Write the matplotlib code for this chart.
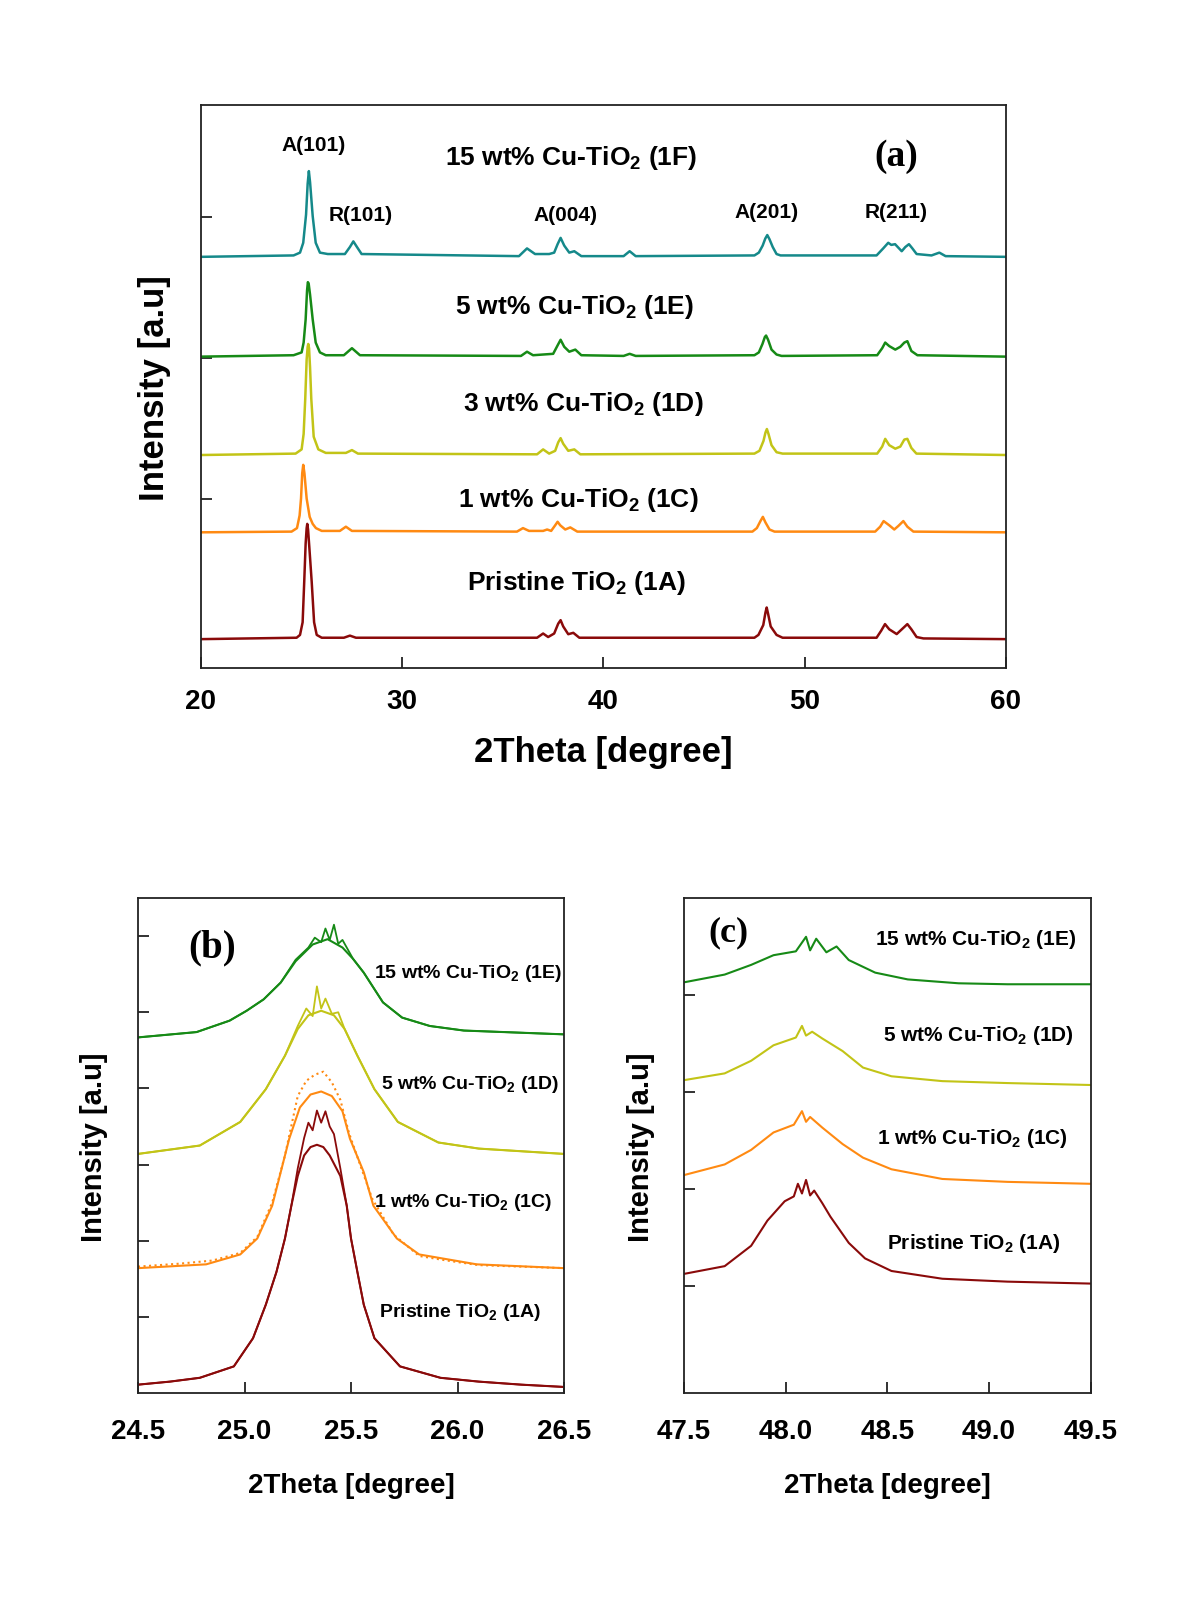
import numpy as np
import matplotlib
matplotlib.use("Agg")
import matplotlib.pyplot as plt

plt.rcParams['font.family'] = ['Liberation Sans', 'DejaVu Sans']
plt.rcParams['font.weight'] = 'bold'
plt.rcParams['mathtext.fontset'] = 'custom'
plt.rcParams['mathtext.rm'] = 'Liberation Sans:bold'
plt.rcParams['mathtext.default'] = 'rm'

# colours of the samples
c_1A = '#8a0a0a'
c_1C = '#ff8a12'
c_1D = '#c2c417'
c_1E = '#168a16'
c_1F = '#15898a'

# ---- panel (a): full patterns, intensity above own baseline ----
a_x_1A = [20, 24.75, 24.92, 25.05, 25.13, 25.2, 25.25, 25.28, 25.32, 25.38, 25.5, 25.62, 25.75, 26.0, 27.1, 27.4, 27.7,
          36.7, 37.0, 37.25, 37.55, 37.75, 37.87, 38.0, 38.25, 38.5, 38.8,
          47.5, 47.7, 47.94, 48.05, 48.11, 48.18, 48.31, 48.6, 48.9,
          53.57, 53.8, 53.99, 54.2, 54.57, 54.9, 55.1, 55.3, 55.56, 55.9, 60]
a_y_1A = [0, .01, .03, .12, .41, .68, .79, .82, .78, .66, .41, .12, .03, .01, .01, .025, .01,
          .01, .04, .015, .04, .11, .135, .09, .035, .045, .01,
          .01, .03, .10, .19, .225, .18, .09, .03, .01,
          .01, .06, .107, .07, .036, .08, .107, .07, .015, .005, 0]
a_x_1C = [20, 24.5, 24.77, 24.9, 24.97, 25.03, 25.08, 25.14, 25.25, 25.4, 25.55, 25.71, 26.0, 26.9, 27.2, 27.5,
          35.7, 36.0, 36.3, 37.0, 37.2, 37.4, 37.6, 37.72, 37.85, 38.1, 38.35, 38.7,
          47.4, 47.62, 47.8, 47.92, 48.05, 48.25, 48.5,
          53.5, 53.75, 53.92, 54.2, 54.45, 54.65, 54.9, 55.1, 55.4, 60]
a_y_1C = [0, .005, .03, .12, .24, .42, .48, .42, .24, .11, .06, .03, .01, .01, .04, .01,
          .005, .03, .01, .01, .02, .01, .05, .075, .05, .02, .035, .005,
          .005, .03, .08, .11, .07, .02, .005,
          .005, .04, .08, .05, .02, .045, .08, .04, .005, 0]
a_x_1D = [20, 24.7, 25.0, 25.1, 25.18, 25.25, 25.3, 25.33, 25.37, 25.42, 25.48, 25.6, 25.83, 26.2, 27.2, 27.5, 27.8,
          36.7, 37.0, 37.3, 37.6, 37.75, 37.87, 38.0, 38.25, 38.55, 38.85,
          47.5, 47.75, 47.95, 48.05, 48.12, 48.2, 48.35, 48.6, 48.9,
          53.6, 53.85, 54.0, 54.2, 54.5, 54.75, 54.95, 55.1, 55.3, 55.55, 60]
a_y_1D = [0, .01, .04, .15, .40, .68, .77, .79, .76, .62, .40, .13, .04, .015, .015, .035, .01,
          .005, .04, .01, .03, .09, .12, .08, .03, .04, .005,
          .01, .03, .10, .16, .185, .15, .07, .02, .01,
          .01, .06, .115, .07, .045, .06, .11, .115, .05, .01, 0]
a_x_1E = [20, 24.6, 25.0, 25.1, 25.2, 25.27, 25.31, 25.35, 25.42, 25.55, 25.7, 25.91, 26.2, 27.1, 27.5, 27.9,
          35.9, 36.2, 36.5, 37.5, 37.72, 37.87, 38.05, 38.3, 38.6, 38.9, 41.0, 41.3, 41.6,
          47.5, 47.72, 47.9, 48.02, 48.08, 48.18, 48.35, 48.6, 48.85,
          53.6, 53.85, 54.0, 54.2, 54.5, 54.75, 54.95, 55.1, 55.3, 55.6, 60]
a_y_1E = [0, .01, .03, .10, .265, .47, .53, .52, .44, .265, .10, .03, .01, .01, .06, .01,
          .005, .035, .01, .02, .08, .12, .07, .035, .05, .01, .005, .02, .005,
          .01, .03, .09, .14, .15, .12, .05, .015, .005,
          .01, .06, .10, .075, .05, .07, .10, .11, .04, .01, 0]
a_x_1F = [20, 24.6, 24.92, 25.08, 25.22, 25.3, 25.36, 25.42, 25.55, 25.7, 25.91, 26.3, 27.15, 27.4, 27.57, 27.75, 27.98,
          35.8, 36.2, 36.6, 37.3, 37.55, 37.72, 37.87, 38.05, 38.3, 38.55, 38.9, 41.0, 41.3, 41.6,
          47.5, 47.72, 47.91, 48.04, 48.14, 48.25, 48.41, 48.6, 48.8,
          53.57, 53.9, 54.15, 54.3, 54.49, 54.82, 55.0, 55.18, 55.35, 55.56, 56.3, 56.69, 57.0, 60]
a_y_1F = [0, .01, .03, .10, .30, .52, .61, .53, .29, .10, .03, .02, .02, .07, .11, .07, .02,
          .005, .06, .02, .02, .03, .09, .135, .08, .03, .04, .005, .005, .04, .005,
          .01, .03, .08, .13, .155, .125, .07, .02, .01,
          .01, .06, .10, .085, .09, .04, .07, .09, .06, .02, .01, .03, .005, 0]
a_base = [0.0, 0.76, 1.31, 2.01, 2.72]
a_names = ['Pristine TiO$_2$ (1A)', '1 wt% Cu-TiO$_2$ (1C)', '3 wt% Cu-TiO$_2$ (1D)',
           '5 wt% Cu-TiO$_2$ (1E)', '15 wt% Cu-TiO$_2$ (1F)']
a_label_x = [38.67, 38.77, 38.98, 38.56, 38.41]
a_label_y = [0.41, 1.00, 1.68, 2.37, 3.43]
peak_names = ['A(101)', 'R(101)', 'A(004)', 'A(201)', 'R(211)']
peak_x = [25.58, 27.92, 38.10, 48.08, 54.56]
peak_y = [3.52, 3.02, 3.02, 3.04, 3.04]

# ---- panel (b): A(101) region, data and fit ----
b_x_1A = [24.5, 24.65, 24.79, 24.95, 25.04, 25.10, 25.15, 25.19, 25.22, 25.25, 25.28, 25.30, 25.32, 25.34, 25.36,
          25.38, 25.40, 25.42, 25.45, 25.48, 25.50, 25.53, 25.56, 25.61, 25.73, 25.92, 26.1, 26.3, 26.5]
b_y_1A = [0.11, 0.15, 0.20, 0.35, 0.72, 1.16, 1.59, 2.03, 2.46, 2.95, 3.35, 3.55, 3.45, 3.71, 3.55,
          3.70, 3.50, 3.40, 2.95, 2.46, 2.03, 1.59, 1.16, 0.72, 0.35, 0.20, 0.15, 0.11, 0.08]
fit_x_1A = [24.5, 24.65, 24.79, 24.95, 25.04, 25.10, 25.15, 25.19, 25.22, 25.25, 25.28, 25.31, 25.34, 25.37, 25.40,
            25.45, 25.48, 25.50, 25.53, 25.56, 25.61, 25.73, 25.92, 26.1, 26.3, 26.5]
fit_y_1A = [0.11, 0.15, 0.20, 0.35, 0.72, 1.16, 1.59, 2.03, 2.46, 2.85, 3.12, 3.23, 3.26, 3.23, 3.12,
            2.85, 2.46, 2.03, 1.59, 1.16, 0.72, 0.35, 0.20, 0.15, 0.11, 0.08]
b_x_1C = [24.5, 24.7, 24.85, 24.98, 25.06, 25.13, 25.19, 25.25, 25.29, 25.33, 25.37, 25.41, 25.45, 25.49, 25.54,
          25.6, 25.7, 25.82, 25.95, 26.1, 26.3, 26.5]
b_y_1C = [1.66, 1.70, 1.74, 1.84, 2.05, 2.50, 3.12, 3.90, 4.10, 4.18, 4.22, 4.08, 3.85, 3.42, 3.02,
          2.55, 2.08, 1.80, 1.74, 1.68, 1.66, 1.64]
fit_x_1C = [24.5, 24.82, 24.98, 25.06, 25.13, 25.17, 25.21, 25.26, 25.31, 25.36, 25.41, 25.46, 25.495, 25.56,
            25.605, 25.715, 25.82, 26.09, 26.5]
fit_y_1C = [1.64, 1.69, 1.82, 2.03, 2.46, 2.90, 3.34, 3.75, 3.92, 3.96, 3.90, 3.70, 3.34, 2.90,
            2.46, 2.03, 1.82, 1.69, 1.64]
b_x_1D = [24.5, 24.79, 24.98, 25.1, 25.19, 25.25, 25.29, 25.32, 25.34, 25.36, 25.38, 25.41, 25.44, 25.47, 25.53,
          25.61, 25.72, 25.91, 26.1, 26.5]
b_y_1D = [3.14, 3.25, 3.56, 3.99, 4.43, 4.82, 5.05, 4.95, 5.34, 5.05, 5.18, 4.98, 5.0, 4.78, 4.43,
          3.99, 3.56, 3.29, 3.21, 3.14]
fit_x_1D = [24.5, 24.79, 24.98, 25.1, 25.19, 25.25, 25.3, 25.36, 25.42, 25.47, 25.53, 25.61, 25.72, 25.91, 26.1, 26.5]
fit_y_1D = [3.14, 3.25, 3.56, 3.99, 4.43, 4.78, 4.96, 5.02, 4.96, 4.78, 4.43, 3.99, 3.56, 3.29, 3.21, 3.14]
b_x_1E = [24.5, 24.775, 24.93, 25.01, 25.09, 25.17, 25.24, 25.30, 25.33, 25.36, 25.38, 25.40, 25.42, 25.44, 25.46,
          25.51, 25.56, 25.65, 25.74, 25.87, 26.03, 26.5]
b_y_1E = [4.67, 4.74, 4.89, 5.02, 5.17, 5.39, 5.69, 5.85, 5.98, 5.92, 6.10, 5.95, 6.15, 5.90, 5.95,
          5.70, 5.52, 5.13, 4.93, 4.82, 4.76, 4.71]
fit_x_1E = [24.5, 24.775, 24.93, 25.01, 25.09, 25.17, 25.24, 25.32, 25.39, 25.46, 25.51, 25.56, 25.65, 25.74,
            25.87, 26.03, 26.5]
fit_y_1E = [4.67, 4.74, 4.89, 5.02, 5.17, 5.39, 5.67, 5.89, 5.96, 5.85, 5.70, 5.52, 5.13, 4.93,
            4.82, 4.76, 4.71]
b_names = ['Pristine TiO$_2$ (1A)', '1 wt% Cu-TiO$_2$ (1C)', '5 wt% Cu-TiO$_2$ (1D)', '15 wt% Cu-TiO$_2$ (1E)']
b_label_x = [25.63, 25.61, 25.64, 25.61]
b_label_y = [1.07, 2.51, 4.06, 5.52]

# ---- panel (c): A(201) region ----
c_x_1A = [47.5, 47.7, 47.83, 47.91, 47.995, 48.04, 48.06, 48.08, 48.10, 48.12, 48.14, 48.18, 48.22, 48.31, 48.39,
          48.52, 48.77, 49.09, 49.5]
c_y_1A = [1.12, 1.20, 1.41, 1.67, 1.87, 1.92, 2.05, 1.95, 2.09, 1.93, 1.98, 1.85, 1.71, 1.44, 1.28,
          1.15, 1.07, 1.04, 1.02]
c_x_1C = [47.5, 47.7, 47.83, 47.94, 48.04, 48.08, 48.1, 48.12, 48.18, 48.28, 48.38, 48.52, 48.77, 49.09, 49.5]
c_y_1C = [2.14, 2.25, 2.40, 2.58, 2.66, 2.80, 2.69, 2.74, 2.63, 2.46, 2.32, 2.20, 2.10, 2.07, 2.05]
c_x_1D = [47.5, 47.7, 47.83, 47.94, 48.05, 48.08, 48.10, 48.13, 48.18, 48.28, 48.38, 48.52, 48.77, 49.09, 49.5]
c_y_1D = [3.12, 3.19, 3.32, 3.48, 3.56, 3.68, 3.58, 3.62, 3.55, 3.42, 3.25, 3.16, 3.11, 3.09, 3.07]
c_x_1E = [47.5, 47.7, 47.83, 47.94, 48.05, 48.1, 48.12, 48.15, 48.2, 48.25, 48.31, 48.44, 48.6, 48.85, 49.09, 49.5]
c_y_1E = [4.13, 4.21, 4.31, 4.41, 4.45, 4.60, 4.46, 4.58, 4.44, 4.50, 4.36, 4.23, 4.16, 4.12, 4.11, 4.11]
c_names = ['Pristine TiO$_2$ (1A)', '1 wt% Cu-TiO$_2$ (1C)', '5 wt% Cu-TiO$_2$ (1D)', '15 wt% Cu-TiO$_2$ (1E)']
c_label_x = [48.50, 48.45, 48.48, 48.44]
c_label_y = [1.44, 2.53, 3.59, 4.58]


def style(ax):
    for s in ax.spines.values():
        s.set_linewidth(1.3)
        s.set_color('#222222')
    ax.tick_params(direction='in', length=8, width=1.3, color='#222222')
    ax.tick_params(axis='y', labelleft=False)
    ax.tick_params(axis='x', labelsize=20, pad=14)


fig = plt.figure(figsize=(12, 16.24), dpi=100)

# panel (a)
ax = fig.add_axes([0.1675, 0.588, 0.6708, 0.3467])
cols = [c_1A, c_1C, c_1D, c_1E, c_1F]
xs = [a_x_1A, a_x_1C, a_x_1D, a_x_1E, a_x_1F]
ys = [a_y_1A, a_y_1C, a_y_1D, a_y_1E, a_y_1F]
for x, y, b, c in zip(xs, ys, a_base, cols):
    ax.plot(x, np.array(y) + b, color=c, lw=1.8)
for t, x, y in zip(a_names, a_label_x, a_label_y):
    ax.text(x, y, t, ha='center', va='center', fontsize=19)
for t, x, y in zip(peak_names, peak_x, peak_y):
    ax.text(x, y, t, ha='center', va='center', fontsize=15)
ax.text(54.57, 3.44, '(a)', ha='center', va='center', fontsize=27, family='Liberation Serif')
ax.set_xlim(20, 60)
ax.set_ylim(-0.206, 3.80)
ax.set_xticks([20, 30, 40, 50, 60])
ax.set_yticks([0, 1, 2, 3])
style(ax)
fig.text(0.129, 0.761, 'Intensity [a.u]', rotation=90, ha='center', va='center', fontsize=25)
fig.text(0.503, 0.5365, '2Theta [degree]', ha='center', va='center', fontsize=25)

# panel (b)
ax = fig.add_axes([0.115, 0.1416, 0.355, 0.3048])
ax.plot(b_x_1A, b_y_1A, color=c_1A, lw=1.3)
ax.plot(fit_x_1A, fit_y_1A, color=c_1A, lw=1.5)
ax.plot(b_x_1C, b_y_1C, color=c_1C, lw=1.5, ls=':')
ax.plot(fit_x_1C, fit_y_1C, color=c_1C, lw=1.5)
ax.plot(b_x_1D, b_y_1D, color=c_1D, lw=1.3)
ax.plot(fit_x_1D, fit_y_1D, color=c_1D, lw=1.5)
ax.plot(b_x_1E, b_y_1E, color=c_1E, lw=1.3)
ax.plot(fit_x_1E, fit_y_1E, color=c_1E, lw=1.5)
for t, x, y in zip(b_names, b_label_x, b_label_y):
    ax.text(x, y, t, ha='left', va='center', fontsize=14)
ax.text(24.85, 5.86, '(b)', ha='center', va='center', fontsize=28, family='Liberation Serif')
ax.set_xlim(24.5, 26.5)
ax.set_ylim(0, 6.5)
ax.set_xticks([24.5, 25.0, 25.5, 26.0, 26.5])
ax.set_xticklabels(['24.5', '25.0', '25.5', '26.0', '26.5'])
ax.set_yticks([1, 2, 3, 4, 5, 6])
style(ax)
ax.tick_params(axis='x', pad=18)
fig.text(0.0785, 0.2936, 'Intensity [a.u]', rotation=90, ha='center', va='center', fontsize=21)
fig.text(0.2925, 0.0851, '2Theta [degree]', ha='center', va='center', fontsize=20)

# panel (c)
ax = fig.add_axes([0.570, 0.1416, 0.339, 0.3048])
ax.plot(c_x_1A, c_y_1A, color=c_1A, lw=1.5)
ax.plot(c_x_1C, c_y_1C, color=c_1C, lw=1.5)
ax.plot(c_x_1D, c_y_1D, color=c_1D, lw=1.5)
ax.plot(c_x_1E, c_y_1E, color=c_1E, lw=1.5)
for t, x, y in zip(c_names, c_label_x, c_label_y):
    ax.text(x, y, t, ha='left', va='center', fontsize=15)
ax.text(47.72, 4.65, '(c)', ha='center', va='center', fontsize=26, family='Liberation Serif')
ax.set_xlim(47.5, 49.5)
ax.set_ylim(-0.11, 5.0)
ax.set_xticks([47.5, 48.0, 48.5, 49.0, 49.5])
ax.set_xticklabels(['47.5', '48.0', '48.5', '49.0', '49.5'])
ax.set_yticks([1, 2, 3, 4])
style(ax)
ax.tick_params(axis='x', pad=18)
fig.text(0.534, 0.2936, 'Intensity [a.u]', rotation=90, ha='center', va='center', fontsize=21)
fig.text(0.7394, 0.0851, '2Theta [degree]', ha='center', va='center', fontsize=20)

fig.savefig('out.png', dpi=100)
